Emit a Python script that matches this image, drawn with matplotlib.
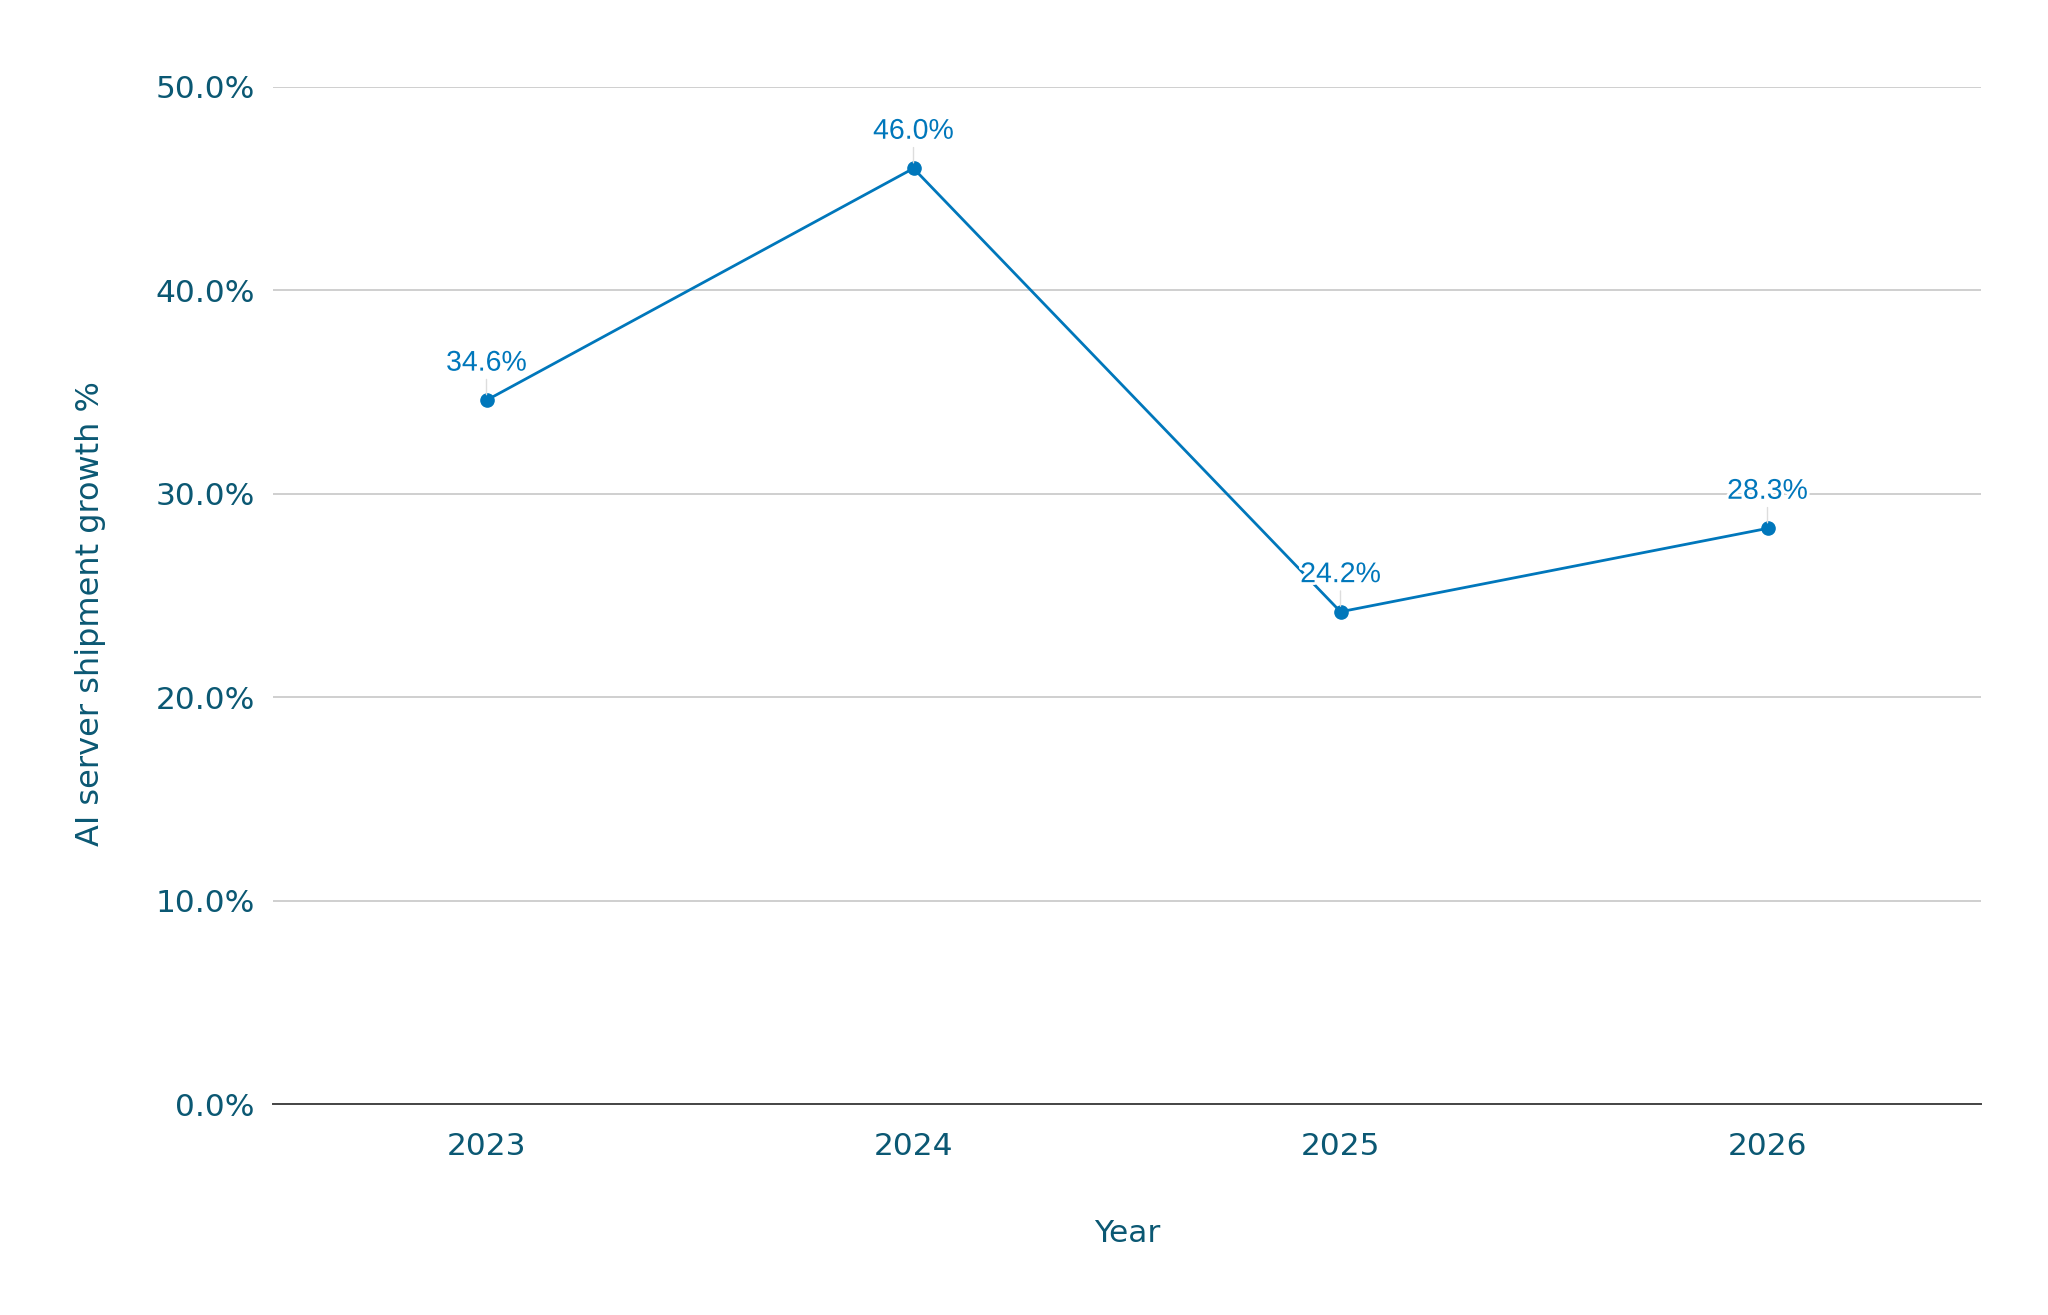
import matplotlib
matplotlib.use("Agg")
import matplotlib.pyplot as plt
import matplotlib.patheffects as pe
from matplotlib.ticker import FuncFormatter

years = ["2023", "2024", "2025", "2026"]
growth = [34.6, 46.0, 24.2, 28.3]
yticks = [0, 10, 20, 30, 40, 50]

tick_color = "#0b5873"
line_color = "#0077bb"

fig = plt.figure(figsize=(20.48, 13.15), dpi=100)
ax = fig.add_axes([273/2048, 1 - 1104/1315, (1981-273)/2048, (1104-87)/1315])

x = list(range(len(years)))
ax.plot(x, growth, color=line_color, lw=2.0, marker="o", markersize=9.5, zorder=3)

for xi, v in zip(x, growth):
    ann = ax.annotate(f"{v:.1f}%", xy=(xi, v), xytext=(0, 17), textcoords="offset points",
                      ha="center", va="bottom", fontsize=20.5, family="Liberation Sans",
                      color=line_color, zorder=5,
                      arrowprops=dict(arrowstyle="-", color="#dddddd", lw=1.0, shrinkA=0, shrinkB=4))
    ann.set_path_effects([pe.withStroke(linewidth=4, foreground="white")])

ax.set_xlim(-0.5, len(years) - 0.5)
ax.set_ylim(0, 50)
ax.set_xticks(x)
ax.set_xticklabels(years)
ax.set_yticks(yticks)
ax.yaxis.set_major_formatter(FuncFormatter(lambda v, p: f"{v:.1f}%"))

ax.grid(axis="y", color="#cccccc", lw=1.3, zorder=0)
ax.set_axisbelow(True)
for s in ["top", "right", "left"]:
    ax.spines[s].set_visible(False)
ax.spines["bottom"].set_color("#444444")
ax.spines["bottom"].set_linewidth(1.4)
ax.spines["bottom"].set_zorder(2)

ax.tick_params(axis="both", length=0, labelsize=22.5, labelcolor=tick_color)
ax.tick_params(axis="y", pad=13)
ax.tick_params(axis="x", pad=20)

ax.set_xlabel("Year", fontsize=22.5, color=tick_color, labelpad=42)
ax.set_ylabel("AI server shipment growth %", fontsize=23, color=tick_color)
ax.yaxis.set_label_coords(-0.0975, 0.482)

fig.savefig("out.png", dpi=100, facecolor="white")
